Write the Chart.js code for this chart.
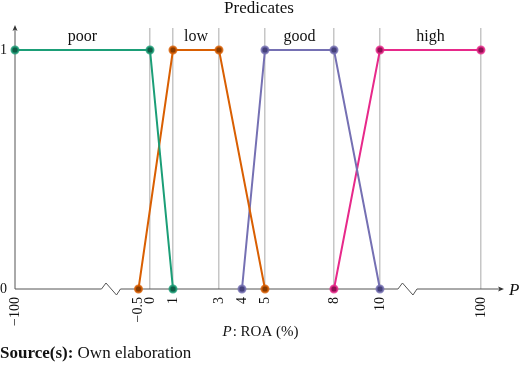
<!DOCTYPE html>
<html>
<head>
<meta charset="utf-8">
<script src="https://cdn.jsdelivr.net/npm/chart.js@4/dist/chart.umd.min.js"></script>
<style>
  html, body { margin: 0; padding: 0; background: #fff; }
  #wrap { position: relative; width: 520px; height: 366px; }
  #c { position: absolute; left: 0; top: 0; }
  #source { position: absolute; left: 0; top: 343px; font-family: "Liberation Serif", serif; font-size: 17px; color: #111; white-space: nowrap; }
</style>
</head>
<body>
<div id="wrap">
  <canvas id="c" width="520" height="366"></canvas>
  <div id="source"><b>Source(s):</b> Own elaboration</div>
</div>
<script>
// ---- data ----
const xTickValues = [-100, -0.5, 0, 1, 3, 4, 5, 8, 10, 100];
const xTickLabels = ['\u2212100', '\u22120.5', '0', '1', '3', '4', '5', '8', '10', '100'];
const gridAt = [0, 1, 3, 5, 8, 10, 100];
const yTickValues = [0, 1];
const predicates = ['poor', 'low', 'good', 'high'];
const poorX = [-100, 0, 1];       const poorY = [1, 1, 0];
const lowX  = [-0.5, 1, 3, 5];    const lowY  = [0, 1, 1, 0];
const goodX = [4, 5, 8, 10];      const goodY = [0, 1, 1, 0];
const highX = [8, 10, 100];       const highY = [0, 1, 1];
const labelSpans = [[-100, 0], [1, 3], [5, 8], [10, 100]];

// broken axis transform
const LEFT_K = 5.37 / 99.5, RIGHT_K = 4.39 / 90;
function axisPos(v) {
  if (v < -0.5) return -0.5 + (v + 0.5) * LEFT_K;
  if (v > 10) return 10 + (v - 10) * RIGHT_K;
  return v;
}
const pts = (xs, ys) => xs.map((x, i) => ({ x: axisPos(x), y: ys[i] }));

const colors = ['#1b9e77', '#d95f02', '#7570b3', '#e7298a'];
const darks  = ['#0f5c45', '#8a3c00', '#45417a', '#8e1052'];
const series = [pts(poorX, poorY), pts(lowX, lowY), pts(goodX, goodY), pts(highX, highY)];

const gridPos = gridAt.map(axisPos);
const SERIF = '"Liberation Serif", "DejaVu Serif", serif';

const decor = {
  id: 'decor',
  beforeDatasetsDraw(chart) {
    const { ctx, chartArea: a, scales: { x } } = chart;
    ctx.save();
    ctx.strokeStyle = '#555';
    ctx.fillStyle = '#333';
    ctx.lineWidth = 1;
    // y axis
    ctx.beginPath();
    ctx.moveTo(a.left, a.bottom);
    ctx.lineTo(a.left, a.top - 1);
    ctx.stroke();
    ctx.beginPath();
    ctx.moveTo(a.left, a.top - 3);
    ctx.lineTo(a.left - 2.5, a.top + 3);
    ctx.lineTo(a.left, a.top + 1.5);
    ctx.lineTo(a.left + 2.5, a.top + 3);
    ctx.closePath();
    ctx.fill();
    // x axis with breaks
    const b = a.bottom;
    const c1 = x.getPixelForValue(axisPos(-0.5)) - 27.5;
    const c2 = x.getPixelForValue(axisPos(10)) + 27.5;
    const zig = (c) => {
      ctx.lineTo(c - 9.5, b);
      ctx.lineTo(c - 5, b - 6);
      ctx.lineTo(c + 5.5, b + 6);
      ctx.lineTo(c + 9.5, b);
    };
    ctx.beginPath();
    ctx.moveTo(a.left, b);
    zig(c1);
    zig(c2);
    ctx.lineTo(a.right - 1, b);
    ctx.stroke();
    ctx.beginPath();
    ctx.moveTo(a.right + 1, b);
    ctx.lineTo(a.right - 5, b - 2.5);
    ctx.lineTo(a.right - 3.5, b);
    ctx.lineTo(a.right - 5, b + 2.5);
    ctx.closePath();
    ctx.fill();
    ctx.restore();
  },
  afterDraw(chart) {
    const { ctx, chartArea: a, scales: { x } } = chart;
    ctx.save();
    ctx.fillStyle = '#111';
    ctx.textAlign = 'center';
    ctx.textBaseline = 'alphabetic';
    ctx.font = '17px ' + SERIF;
    ctx.fillText('Predicates', 259, 13);
    ctx.font = '16px ' + SERIF;
    labelSpans.forEach((s, i) => {
      const cx = (x.getPixelForValue(axisPos(s[0])) + x.getPixelForValue(axisPos(s[1]))) / 2;
      ctx.fillText(predicates[i], cx, 41);
    });
    // P at arrow
    ctx.textAlign = 'left';
    ctx.font = 'italic 17px ' + SERIF;
    ctx.fillText('P', a.right + 6, a.bottom + 6);
    // axis title
    const t1 = 'P', t2 = ': ROA (%)';
    ctx.font = 'italic 15px ' + SERIF;
    const w1 = ctx.measureText(t1).width;
    ctx.font = '15px ' + SERIF;
    const w2 = ctx.measureText(t2).width;
    const sx = 260 - (w1 + w2) / 2;
    ctx.font = 'italic 15px ' + SERIF;
    ctx.fillText(t1, sx, 336);
    ctx.font = '15px ' + SERIF;
    ctx.fillText(t2, sx + w1 + 1, 336);
    ctx.restore();
  }
};

new Chart(document.getElementById('c'), {
  type: 'line',
  data: {
    datasets: series.map((d, i) => ({
      label: predicates[i],
      data: d,
      borderColor: colors[i],
      borderWidth: 2,
      pointRadius: 3.5,
      pointBorderWidth: 2,
      pointBackgroundColor: darks[i],
      pointBorderColor: colors[i] + 'cc',
      tension: 0,
      clip: false
    }))
  },
  options: {
    responsive: false,
    animation: false,
    layout: { padding: { left: 0, right: 17, top: 28, bottom: 0 } },
    plugins: { legend: { display: false }, tooltip: { enabled: false }, title: { display: false } },
    scales: {
      x: {
        type: 'linear',
        min: axisPos(-100),
        max: 15.35,
        afterBuildTicks: (s) => { s.ticks = xTickValues.map(v => ({ value: axisPos(v) })); },
        afterFit: (s) => { s.height = 77; },
        border: { display: false },
        grid: {
          drawTicks: false,
          lineWidth: 1.5,
          color: (ctx) => {
            const v = ctx.tick ? ctx.tick.value : null;
            return (v !== null && gridPos.some(g => Math.abs(g - v) < 1e-6)) ? '#c6c6c6' : 'rgba(0,0,0,0)';
          }
        },
        ticks: {
          autoSkip: false,
          minRotation: 90,
          maxRotation: 90,
          padding: 8,
          color: '#111',
          font: { family: SERIF, size: 14 },
          callback: (val, idx) => xTickLabels[idx]
        }
      },
      y: {
        type: 'linear',
        min: 0,
        max: 1.092,
        afterBuildTicks: (s) => { s.ticks = yTickValues.map(v => ({ value: v })); },
        afterFit: (s) => { s.width = 15; },
        border: { display: false },
        grid: { display: false, drawTicks: false },
        ticks: {
          padding: 8,
          color: '#111',
          font: { family: SERIF, size: 14 },
          callback: (v) => String(v)
        }
      }
    }
  },
  plugins: [decor]
});
</script>
</body>
</html>
